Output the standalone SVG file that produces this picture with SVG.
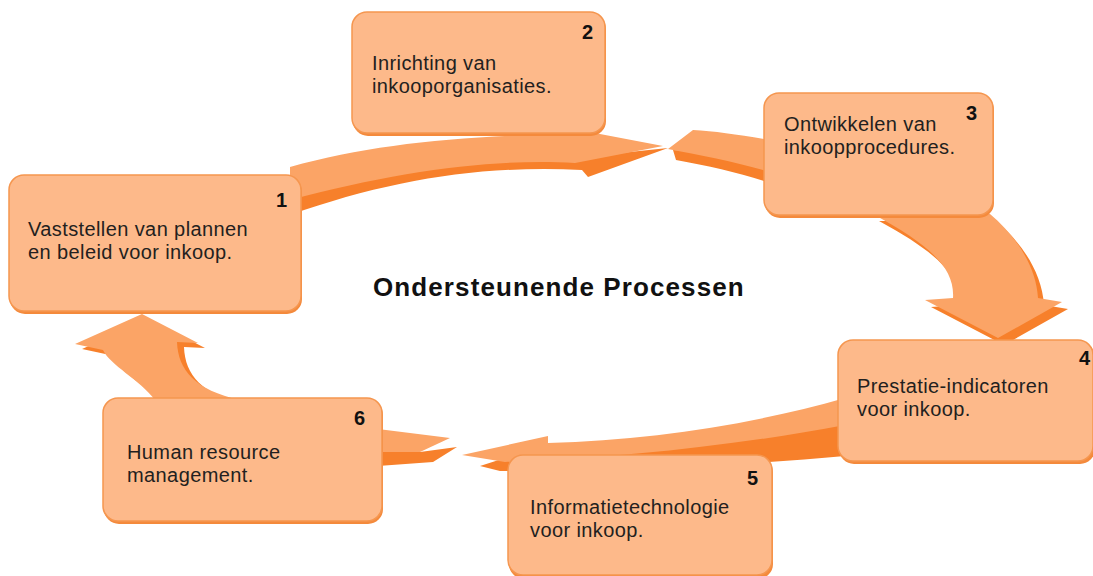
<svg xmlns="http://www.w3.org/2000/svg" width="1093" height="576" viewBox="0 0 1093 576">
<style>
.lt{fill:#fba466}
.dk{fill:#f7802b}
.bx{fill:#fdb98a;stroke:#f5964f;stroke-width:1.5}
.sh{fill:#f48a3c}
.t{font-family:"Liberation Sans",Arial,sans-serif;font-size:20px;letter-spacing:0.4px;fill:#231f20}
.n{font-family:"Liberation Sans",Arial,sans-serif;font-size:20px;font-weight:bold;fill:#111}
.title{font-family:"Liberation Sans",Arial,sans-serif;font-size:26px;letter-spacing:1.1px;font-weight:bold;fill:#111}
</style>
<rect width="1093" height="576" fill="#ffffff"/>
<g id="connectors">
  <!-- top arrow (1 -> 2/3) -->
  <path class="dk" d="M290,195 C400,165 500,155 575,158 L572,158 L668,148 L588,177 L582,170 C480,165 390,180 290,215 Z"/>
  <path class="lt" d="M290,167 C370,145 450,137 560,134 L600,134 L663,146 L575,163 C500,158 400,170 290,200 Z"/>
  <!-- tail from 3 -->
  <path class="dk" d="M770,164 C740,158 700,151 673,150 L676,160 C710,166 740,173 770,183 Z"/>
  <path class="lt" d="M770,140 C740,135 715,131 693,130 L668,149 C700,155 740,163 770,172 Z"/>
  <!-- arrow 3 -> 4 -->
  <path class="dk" transform="translate(6,7)" d="M873,214 C930,245 955,268 953,298 L925,300 L998,338 L1062,302 L1038,298 C1036,265 1015,235 990,214 Z"/>
  <path class="lt" d="M873,214 C930,245 955,268 953,298 L925,300 L998,338 L1062,302 L1038,298 C1036,265 1015,235 990,214 Z"/>
  <!-- arrow 4 -> 5 -->
  <path class="dk" d="M845,418 C740,440 620,452 505,458 L480,466 L500,471 C620,470 740,466 845,456 Z"/>
  <path class="lt" d="M845,398 C750,425 650,440 548,443 L548,436 L462,455 L505,462 C620,458 740,445 845,425 Z"/>
  <!-- tail from 6 -->
  <path class="dk" d="M378,449 L420,452 L457,447 L433,462 L378,466 Z"/>
  <path class="lt" d="M378,429 L450,438 L420,452 L378,452 Z"/>
  <!-- arrow 6 -> 1 -->
  <path class="dk" transform="translate(7,5)" d="M155,400 C140,380 110,365 103,350 L75,344 L142,314 L198,343 L177,342 C178,370 195,390 240,400 Z"/>
  <path class="lt" d="M155,400 C140,380 110,365 103,350 L75,344 L142,314 L198,343 L177,342 C178,370 195,390 240,400 Z"/>
</g>
<g id="node1">
  <rect class="sh" x="10" y="177" width="292" height="137" rx="15"/>
  <rect class="bx" x="9" y="175" width="292" height="136" rx="15"/>
  <text class="n" x="276" y="207">1</text>
  <text class="t" x="28" y="236">Vaststellen van plannen</text>
  <text class="t" x="28" y="259">en beleid voor inkoop.</text>
</g>
<g id="node2">
  <rect class="sh" x="353" y="14" width="253" height="122" rx="15"/>
  <rect class="bx" x="352" y="12" width="253" height="121" rx="15"/>
  <text class="n" x="582" y="39">2</text>
  <text class="t" x="372" y="70">Inrichting van</text>
  <text class="t" x="372" y="93">inkooporganisaties.</text>
</g>
<g id="node3">
  <rect class="sh" x="765" y="95" width="229" height="123" rx="15"/>
  <rect class="bx" x="764" y="93" width="229" height="122" rx="15"/>
  <text class="n" x="966" y="120">3</text>
  <text class="t" x="784" y="131">Ontwikkelen van</text>
  <text class="t" x="784" y="154">inkoopprocedures.</text>
</g>
<g id="node4">
  <rect class="sh" x="839" y="342" width="256" height="122" rx="15"/>
  <rect class="bx" x="838" y="340" width="255" height="121" rx="15"/>
  <text class="n" x="1079" y="365">4</text>
  <text class="t" x="857" y="393">Prestatie-indicatoren</text>
  <text class="t" x="857" y="416">voor inkoop.</text>
</g>
<g id="node5">
  <rect class="sh" x="509" y="457" width="264" height="122" rx="15"/>
  <rect class="bx" x="508" y="455" width="264" height="120" rx="15"/>
  <text class="n" x="747" y="485">5</text>
  <text class="t" x="530" y="514">Informatietechnologie</text>
  <text class="t" x="530" y="537">voor inkoop.</text>
</g>
<g id="node6">
  <rect class="sh" x="104" y="400" width="279" height="124" rx="15"/>
  <rect class="bx" x="103" y="398" width="279" height="123" rx="15"/>
  <text class="n" x="354" y="425">6</text>
  <text class="t" x="127" y="459">Human resource</text>
  <text class="t" x="127" y="482">management.</text>
</g>
<g id="title">
  <text class="title" x="373" y="296">Ondersteunende Processen</text>
</g>
</svg>
